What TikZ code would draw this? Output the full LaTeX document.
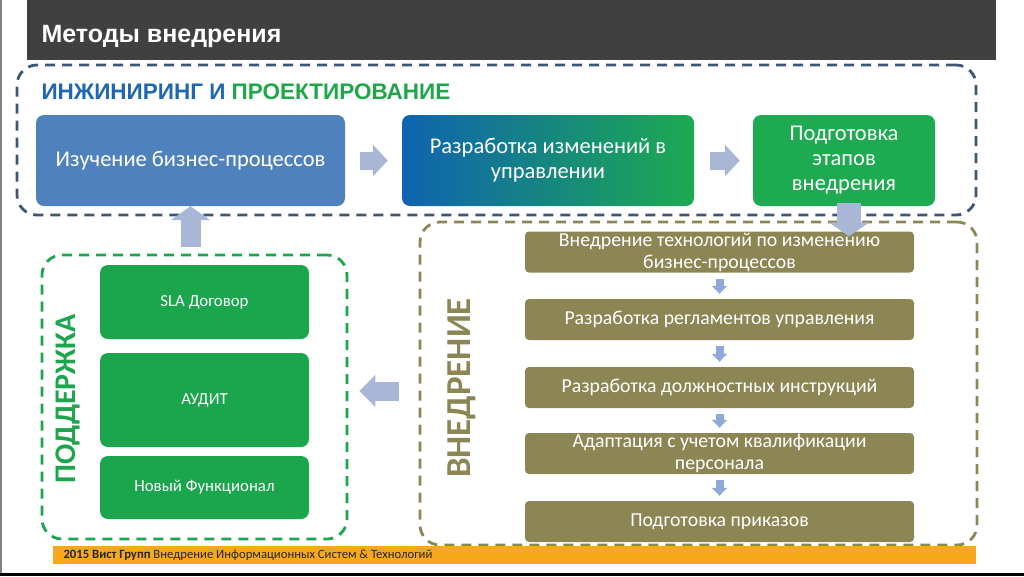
\documentclass[tikz,border=0pt]{standalone}
\usepackage{fontspec}
\setmainfont{Carlito}
\newfontfamily\headfont{Liberation Sans}
\usetikzlibrary{arrows.meta}

\definecolor{titlegray}{HTML}{404040}
\definecolor{engblue}{HTML}{3D5675}
\definecolor{txtblue}{HTML}{1F67B1}
\definecolor{txtgreen}{HTML}{1FA64B}
\definecolor{boxblue}{HTML}{4F81BD}
\definecolor{gradblue}{HTML}{0F63B0}
\definecolor{boxgreen}{HTML}{1DAA50}
\definecolor{supgreen}{HTML}{1BA54D}
\definecolor{olive}{HTML}{8C8654}
\definecolor{arrblue}{HTML}{A8B7D5}
\definecolor{smallarr}{HTML}{8FAAD8}
\definecolor{footorange}{HTML}{F8A81B}

\tikzset{
  groupbox/.style={rectangle, rounded corners=20pt, line width=2.8pt, dash pattern=on 10pt off 7pt},
  stagebox/.style={rectangle, rounded corners=8pt, text=white, align=center, inner sep=0pt,
    font=\fontsize{22.5}{25}\selectfont, minimum height=91pt},
  supbox/.style={rectangle, rounded corners=8pt, fill=supgreen, text=white, inner sep=0pt,
    font=\fontsize{16.8}{19}\selectfont, minimum width=209pt},
  implbox/.style={rectangle, rounded corners=4pt, fill=olive, text=white, align=center, inner sep=0pt,
    font=\fontsize{19.8}{22}\selectfont, minimum width=389pt, minimum height=41pt},
  bigarr/.style={line width=18pt, arrblue, -{Triangle[length=15pt,width=31pt]}},
  smallarrow/.style={line width=8pt, smallarr, -{Triangle[length=8pt,width=15pt]}, shorten <=6pt, shorten >=5pt},
  grouplabel/.style={rotate=90, font=\bfseries\fontsize{30}{30}\selectfont}
}

\begin{document}
\begin{tikzpicture}[x=1pt,y=-1pt]
  \useasboundingbox (0,0) rectangle (1024,576);
  \fill[black] (0,573) rectangle (1024,576);
  \draw[gray, line width=1.5pt] (1,0) -- (1,573);

  % title bar
  \fill[titlegray] (27,0) rectangle (996,60);
  \node[anchor=base west, text=white, font=\headfont\bfseries\fontsize{25}{30}\selectfont] (title) at (38,42) {Методы внедрения};

  % groups
  \node[groupbox, draw=engblue, minimum width=959pt, minimum height=150pt] (eng) at (496.5,140) {};
  \node[groupbox, draw=supgreen, minimum width=305pt, minimum height=284pt] (sup) at (194.5,397) {};
  \node[groupbox, draw=olive, minimum width=557pt, minimum height=323pt] (impl) at (698.5,383.5) {};

  \node[anchor=base west, font=\headfont\bfseries\fontsize{22.5}{26}\selectfont] (enghead) at (38,99)
    {\textcolor{txtblue}{ИНЖИНИРИНГ И} \textcolor{txtgreen}{ПРОЕКТИРОВАНИЕ}};
  \node[grouplabel, text=supgreen] (suplabel) at (68,399) {ПОДДЕРЖКА};
  \node[grouplabel, text=olive, font=\bfseries\fontsize{35}{35}\selectfont] (impllabel) at (462,388) {ВНЕДРЕНИЕ};

  % engineering stages
  \node[stagebox, fill=boxblue, minimum width=309pt] (study) at (190.5,160.5) {Изучение бизнес-процессов};
  \node[stagebox, left color=gradblue, right color=boxgreen, minimum width=292pt] (change) at (548,160.5)
    {Разработка изменений в\\управлении};
  \node[stagebox, fill=boxgreen, minimum width=182pt] (prep) at (844,160.5) {Подготовка\\этапов\\внедрения};

  % support
  \node[supbox, minimum height=74pt] (sla) at (204.5,302) {SLA Договор};
  \node[supbox, minimum height=94pt] (audit) at (204.5,400) {АУДИТ};
  \node[supbox, minimum height=63pt] (newfn) at (204.5,487.5) {Новый Функционал};

  % implementation
  \node[implbox] (ia) at (719.5,252) {Внедрение технологий по изменению\\бизнес-процессов};
  \node[implbox] (ib) at (719.5,319.5) {Разработка регламентов управления};
  \node[implbox] (ic) at (719.5,387.5) {Разработка должностных инструкций};
  \node[implbox] (id) at (719.5,453.5) {Адаптация с учетом квалификации\\персонала};
  \node[implbox] (ie) at (719.5,521.5) {Подготовка приказов};

  % arrows
  \draw[bigarr, shorten <=15pt, shorten >=14pt] (study.east) -- (change.west);
  \draw[bigarr, shorten <=16pt, shorten >=13pt] (change.east) -- (prep.west);
  \draw[bigarr, line width=20pt, -{Triangle[length=14pt,width=39pt]}, shorten <=7pt] (study.south |- sup.north) -- (study.south);
  \draw[bigarr, line width=24pt, -{Triangle[length=14pt,width=40pt]}, shorten <=-3pt, shorten >=-5pt]
    ([xshift=5pt]prep.south) -- ([xshift=5pt]prep.south |- ia.north);
  \draw[bigarr, line width=19pt, -{Triangle[length=16pt,width=31pt]}, shorten <=20pt, shorten >=11pt]
    (impl.west |- 0,391) -- (sup.east |- 0,391);
  \foreach \a/\b in {ia/ib,ib/ic,ic/id,id/ie}
    \draw[smallarrow] (\a.south) -- (\b.north);

  % footer
  \fill[footorange] (53,546) rectangle (976,564);
  \node[anchor=west, text=black!85, font=\fontsize{12.7}{14}\selectfont] (foot) at (60,555)
    {\textbf{2015 Вист Групп} Внедрение Информационных Систем \& Технологий};
\end{tikzpicture}
\end{document}
